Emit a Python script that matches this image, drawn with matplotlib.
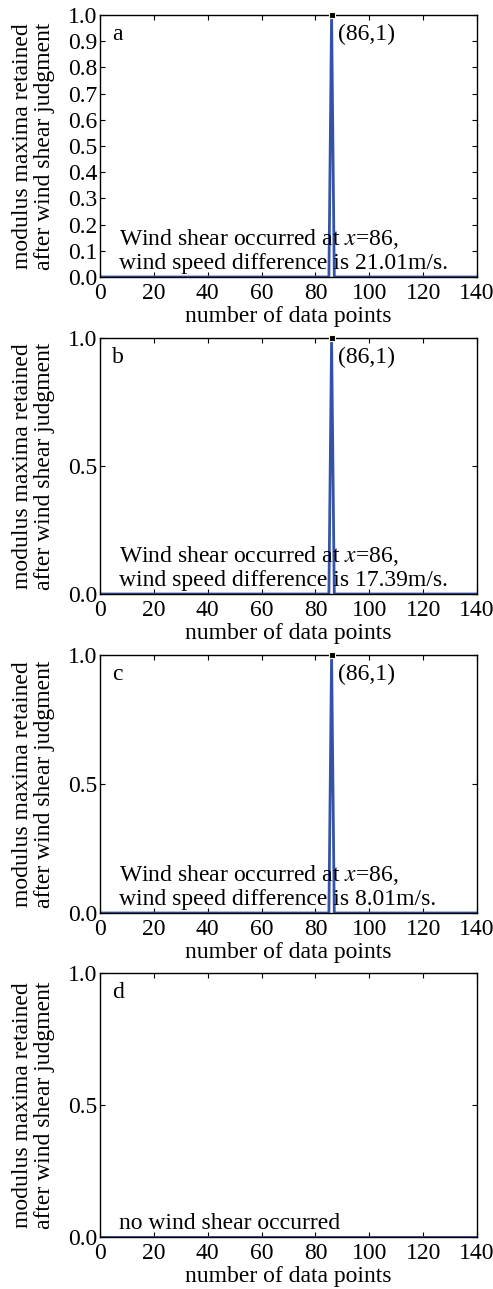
import matplotlib
matplotlib.use("Agg")
import matplotlib.pyplot as plt

plt.rcParams["font.family"] = ["Liberation Serif", "DejaVu Serif"]
plt.rcParams["mathtext.fontset"] = "stix"

# retained modulus maxima for each case (x: data point index, y: normalised maximum)
spike_x = [0, 85, 86, 87, 140]
case_a_y = [0, 0, 1, 0, 0]
case_b_y = [0, 0, 1, 0, 0]
case_c_y = [0, 0, 1, 0, 0]
flat_x = [0, 140]
case_d_y = [0, 0]

peak_x = 86
peak_y = 1

panel_letters = ["a", "b", "c", "d"]
notes = [
    "Wind shear occurred at $x$=86,\nwind speed difference is 21.01m/s.",
    "Wind shear occurred at $x$=86,\nwind speed difference is 17.39m/s.",
    "Wind shear occurred at $x$=86,\nwind speed difference is 8.01m/s.",
    "no wind shear occurred",
]
series = [(spike_x, case_a_y), (spike_x, case_b_y), (spike_x, case_c_y), (flat_x, case_d_y)]
has_peak = [True, True, True, False]
yticks_list = [
    [0.0, 0.1, 0.2, 0.3, 0.4, 0.5, 0.6, 0.7, 0.8, 0.9, 1.0],
    [0.0, 0.5, 1.0],
    [0.0, 0.5, 1.0],
    [0.0, 0.5, 1.0],
]
xticks = [0, 20, 40, 60, 80, 100, 120, 140]

W, H = 493, 1289
fig = plt.figure(figsize=(W / 100, H / 100), dpi=100)

# axes boxes in pixels: (left, top, right, bottom)
boxes = [
    (100, 15, 477, 277),
    (100, 338, 477, 594),
    (100, 655, 477, 913),
    (100, 973, 477, 1237),
]

line_color = "#3452a8"
fs = 17

for i, (l, t, r, b) in enumerate(boxes):
    ax = fig.add_axes([l / W, 1 - b / H, (r - l) / W, (b - t) / H])
    xs, ys = series[i]
    ax.plot(xs, ys, color=line_color, lw=2.0, solid_joinstyle="miter")
    if has_peak[i]:
        ax.plot([peak_x], [peak_y], marker="s", ms=4.5, mfc="black",
                mec="#fff8c8", mew=0.8, clip_on=False, zorder=5)
        ax.annotate("(%d,%d)" % (peak_x, peak_y), xy=(peak_x, peak_y),
                    xytext=(6, -9), textcoords="offset pixels",
                    fontsize=fs, ha="left", va="top")
    ax.set_xlim(0, 140)
    ax.set_ylim(0, 1)
    ax.set_xticks(xticks)
    ax.set_yticks(yticks_list[i])
    ax.set_yticklabels(["%.1f" % v for v in yticks_list[i]])
    ax.tick_params(direction="in", top=True, right=True, length=3.5,
                   width=0.8, labelsize=fs)
    ax.tick_params(axis="y", pad=2)
    ax.tick_params(axis="x", pad=4)
    for s in ax.spines.values():
        s.set_linewidth(1.0)
    ax.set_xlabel("number of data points", fontsize=fs, labelpad=2)
    ax.set_ylabel("modulus maxima retained\nafter wind shear judgment",
                  fontsize=fs, linespacing=1.06)
    ax.yaxis.set_label_coords(-45 / (r - l), 0.5)
    ax.annotate(panel_letters[i], xy=(0, 1), xycoords="axes fraction",
                xytext=(12, -9), textcoords="offset pixels",
                fontsize=fs, ha="left", va="top")
    ax.annotate(notes[i], xy=(0, 0), xycoords="axes fraction",
                xytext=(19, 3), textcoords="offset pixels",
                fontsize=fs, ha="left", va="bottom", linespacing=1.1)

fig.savefig("out.png", dpi=100)
